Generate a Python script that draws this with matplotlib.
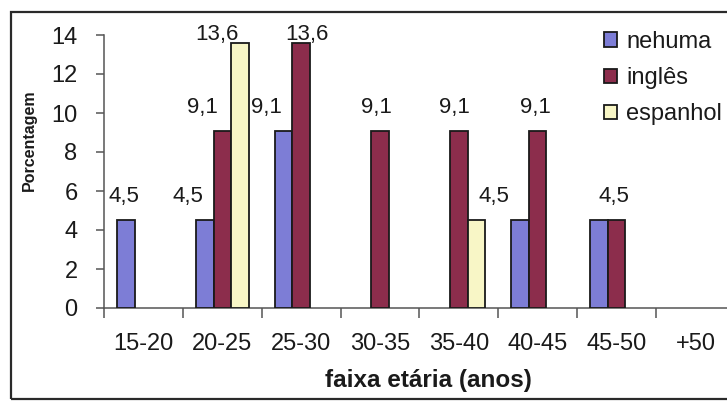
import matplotlib
matplotlib.use("Agg")
import matplotlib.pyplot as plt
from matplotlib.patches import Rectangle
import numpy as np

plt.rcParams['font.family'] = ['Liberation Sans', 'DejaVu Sans']

# Age bands and share (%) of respondents by foreign language spoken
age_bands = ["15-20", "20-25", "25-30", "30-35", "35-40", "40-45", "45-50", "+50"]
nehuma = [4.5, 4.5, 9.1, 0, 0, 4.5, 4.5, 0]
ingles = [0, 9.1, 13.6, 9.1, 9.1, 9.1, 4.5, 0]
espanhol = [0, 13.6, 0, 0, 4.5, 0, 0, 0]
series_names = ["nehuma", "inglês", "espanhol"]
y_ticks = [0, 2, 4, 6, 8, 10, 12, 14]

# Which bars carry a value label: (band index, series index)
labelled = [(0, 0), (1, 0), (1, 1), (1, 2), (2, 0), (2, 1),
            (3, 1), (4, 1), (4, 2), (5, 1), (6, 1)]
# Label nudges in pixels (dx, gap above bar top)
label_nudge = {(0, 0): (-2, 18), (1, 0): (-17, 18), (1, 1): (-20, 18),
               (1, 2): (-23, 3), (2, 0): (-17, 18), (2, 1): (6, 3),
               (3, 1): (-4, 18), (4, 1): (-4, 18), (4, 2): (18, 18),
               (5, 1): (-2, 18), (6, 1): (-3, 18)}

colors = ["#7d7dd6", "#8c2d4c", "#f8f6c6"]
values = [nehuma, ingles, espanhol]
ink = "#1a1a1a"

W, H = 727, 401
fig = plt.figure(figsize=(W / 100, H / 100), dpi=100)

# Outer chart frame
frame = Rectangle((11 / W, 2 / H), 1.2, (399 - 12) / H, transform=fig.transFigure,
                  fill=False, edgecolor="#2a2a2a", linewidth=1.6)
fig.patches.append(frame)

left_px, cat_px = 104, 78.86
ax = fig.add_axes([left_px / W, (H - 308) / H, 8 * cat_px / W, (308 - 35) / H])
ax.set_xlim(0, len(age_bands))
ax.set_ylim(0, 14)

x = np.arange(len(age_bands)) + 0.5
bw = 0.222
for k, (vals, col, name) in enumerate(zip(values, colors, series_names)):
    vals = np.asarray(vals, dtype=float)
    keep = vals > 0  # empty categories get no bar at all
    ax.bar((x + (k - 1) * bw)[keep], vals[keep], width=bw, color=col,
           edgecolor=ink, linewidth=1.3, label=name, zorder=3)

for (i, k) in labelled:
    v = values[k][i]
    dx, gap = label_nudge[(i, k)]
    ax.annotate(f"{v:.1f}".replace(".", ","), xy=(x[i] + (k - 1) * bw, v),
                xytext=(dx, gap), textcoords="offset pixels",
                ha="center", va="baseline", fontsize=16, color=ink,
                annotation_clip=False)

for s in ["top", "right"]:
    ax.spines[s].set_visible(False)
for s in ["left", "bottom"]:
    ax.spines[s].set_color("#555555")
    ax.spines[s].set_linewidth(1.1)

ax.set_yticks(y_ticks)
ax.set_yticklabels([str(t) for t in y_ticks])
ax.tick_params(axis="y", direction="out", length=6, width=1.1, color="#555555",
               pad=13, labelsize=17, labelcolor=ink)

ax.set_xticks(np.arange(len(age_bands) + 1))
ax.set_xticklabels([])
ax.set_xticks(x, minor=True)
ax.set_xticklabels(age_bands, minor=True)
ax.tick_params(axis="x", which="major", direction="out", length=7, width=1.1,
               color="#555555")
ax.tick_params(axis="x", which="minor", length=0, pad=18, labelsize=17,
               labelcolor=ink)

fig.text(29 / W, 1 - 140 / H, "Porcentagem", rotation=90, ha="center",
         va="center", fontsize=11.5, fontweight="bold", color=ink)
fig.text(428 / W, 1 - 381 / H, "faixa etária (anos)", ha="center",
         va="center", fontsize=17.5, fontweight="bold", color=ink)

leg = ax.legend(loc="upper left", bbox_to_anchor=(592 / W, 1 - 19 / H),
                bbox_transform=fig.transFigure, frameon=False,
                fontsize=17, handlelength=0.55, handleheight=0.55,
                handletextpad=0.4, labelspacing=0.6, borderpad=0)
for t in leg.get_texts():
    t.set_color(ink)

fig.savefig("out.png", dpi=100)
